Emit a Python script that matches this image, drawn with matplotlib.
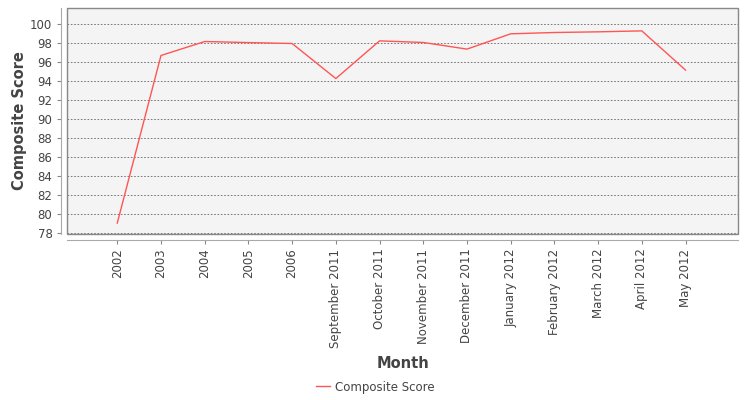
import matplotlib
matplotlib.use("Agg")
import matplotlib.pyplot as plt
from matplotlib.patches import Rectangle
from matplotlib.lines import Line2D

categories = ["2002", "2003", "2004", "2005", "2006", "September 2011", "October 2011",
              "November 2011", "December 2011", "January 2012", "February 2012",
              "March 2012", "April 2012", "May 2012"]
scores = [79.05, 96.7, 98.17, 98.06, 97.96, 94.27, 98.24, 98.07, 97.37, 98.98, 99.12,
          99.19, 99.29, 95.16]
yticks = list(range(78, 101, 2))

plt.rcParams['font.family'] = ['DejaVu Sans']
fig = plt.figure(figsize=(7.5, 4), dpi=100)
ax = fig.add_axes([67/750, 1-234/400, (738-67)/750, (234-8)/400])
ax.set_facecolor('#f4f4f4')

x = list(range(len(categories)))
ax.plot(x, scores, color='#ff5555', lw=1.0, label='Composite Score')

ax.set_xlim(-1.15, 14.2)
ax.set_ylim(77.9, 101.7)
ax.set_yticks(yticks)
ax.set_xticks(x)
ax.set_xticklabels(categories)
ax.tick_params(axis='both', colors='#888888', labelcolor='#444444', labelsize=8.5, length=3)
ax.tick_params(axis='x', labelrotation=90)
for s in ['top', 'right']:
    ax.spines[s].set_visible(False)
for s in ['left', 'bottom']:
    ax.spines[s].set_position(('outward', 4))
    ax.spines[s].set_color('#aaaaaa')
ax.add_patch(Rectangle((0, 0), 1, 1, transform=ax.transAxes, fill=False,
                       edgecolor='#888888', lw=1, clip_on=False, zorder=5))
ax.yaxis.grid(True, color='#666666', linestyle=(0, (2, 2)), lw=0.6)
ax.set_axisbelow(True)

ax.set_ylabel('Composite Score', fontsize=10.5, fontweight='bold', color='#444444')
ax.set_xlabel('Month', fontsize=10.5, fontweight='bold', color='#444444')
ax.yaxis.set_label_coords((20 - 67) / 671, 0.5)
ax.xaxis.set_label_coords(0.5, (234 - 364) / 226)
ax.xaxis.label.set_va('center')
ax.yaxis.label.set_va('center')

leg = fig.legend(handles=[Line2D([0], [0], color='#ff5555', lw=1)], labels=['Composite Score'],
                 loc='center', bbox_to_anchor=(0.5, 1-387/400), frameon=False,
                 fontsize=8.5, handlelength=1.2, handletextpad=0.4)
for t in leg.get_texts():
    t.set_color('#444444')

fig.savefig('out.png', dpi=100)
